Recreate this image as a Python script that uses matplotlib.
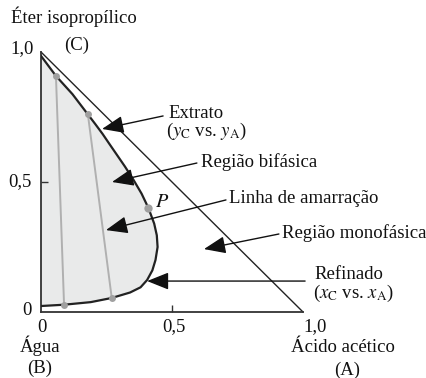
import matplotlib
matplotlib.use("Agg")
import matplotlib.pyplot as plt
from matplotlib.patches import Polygon

plt.rcParams['font.family'] = ['Liberation Serif', 'DejaVu Serif']
plt.rcParams['mathtext.fontset'] = 'stix'

# Binodal curve (mass fractions): x = ácido acético, y = éter isopropílico
binodal_x = [0.0, 0.088, 0.19, 0.27, 0.34, 0.38, 0.405, 0.425, 0.437, 0.445,
             0.442, 0.432, 0.41, 0.384, 0.352, 0.32, 0.29, 0.262, 0.235, 0.207,
             0.179, 0.12, 0.057, 0.0]
binodal_y = [0.023, 0.028, 0.038, 0.054, 0.075, 0.095, 0.123, 0.16, 0.2, 0.25,
             0.295, 0.34, 0.40, 0.455, 0.51, 0.56, 0.604, 0.645, 0.685, 0.723,
             0.76, 0.838, 0.908, 0.985]

# Tie lines: (raffinate point, extract point)
tie_raf_x = [0.088, 0.27]
tie_raf_y = [0.028, 0.054]
tie_ext_x = [0.057, 0.179]
tie_ext_y = [0.908, 0.76]

# Plait point
plait_x, plait_y = 0.41, 0.40

W, H = 427, 378
fig = plt.figure(figsize=(W / 100, H / 100), dpi=100)
ax = fig.add_axes([41 / W, (H - 312) / H, 262 / W, 260 / H])
ax.set_xlim(0, 1)
ax.set_ylim(0, 1)

# two-phase region shading
verts = list(zip(binodal_x, binodal_y))
ax.add_patch(Polygon(verts, closed=True, facecolor='#e9eaea', edgecolor='none', zorder=1))

# hypotenuse of the diagram
ax.plot([0, 1], [1, 0], color='#222222', lw=1.0, zorder=2, clip_on=False)

# tie lines
for rx, ry, ex, ey in zip(tie_raf_x, tie_raf_y, tie_ext_x, tie_ext_y):
    ax.plot([rx, ex], [ry, ey], color='#b0b0b0', lw=1.4, zorder=3)
    ax.plot([rx, ex], [ry, ey], 'o', color='#a0a0a0', ms=5, mec='none', zorder=5)

# binodal curve
ax.plot(binodal_x, binodal_y, color='#222222', lw=1.6, zorder=4,
        solid_capstyle='round', solid_joinstyle='round')

# plait point
ax.plot([plait_x], [plait_y], 'o', color='#a0a0a0', ms=6, mec='none', zorder=5)

# axes styling
for s in ['top', 'right']:
    ax.spines[s].set_visible(False)
for s in ['left', 'bottom']:
    ax.spines[s].set_color('#333333')
    ax.spines[s].set_linewidth(1.3)
ax.set_xticks([0.5])
ax.set_yticks([0.5])
ax.tick_params(direction='in', length=5, width=1.0, color='#333333',
               labelbottom=False, labelleft=False)

fs = 13.5
txt = dict(fontsize=fs, color='#111111', clip_on=False)

# tick labels
ax.text(-0.073, 1.015, '1,0', ha='center', va='center', **txt)
ax.text(-0.08, 0.5, '0,5', ha='center', va='center', **txt)
ax.text(-0.053, 0.004, '0', ha='center', va='center', **txt)
ax.text(0.004, -0.058, '0', ha='center', va='center', **txt)
ax.text(0.508, -0.058, '0,5', ha='center', va='center', **txt)
ax.text(1.046, -0.058, '1,0', ha='center', va='center', **txt)

# component labels
ax.text(0.125, 1.135, 'Éter isopropílico', ha='center', va='center', **txt)
ax.text(0.137, 1.027, '(C)', ha='center', va='center', **txt)
ax.text(-0.004, -0.131, 'Água', ha='center', va='center', **txt)
ax.text(-0.004, -0.215, '(B)', ha='center', va='center', **txt)
ax.text(1.153, -0.135, 'Ácido acético', ha='center', va='center', **txt)
ax.text(1.168, -0.223, '(A)', ha='center', va='center', **txt)

ax.text(0.462, 0.423, '$P$', ha='center', va='center', fontsize=fs + 1, color='#111111')

# annotations with arrows
arrow = dict(arrowstyle='-|>,head_length=0.95,head_width=0.38', color='#111111',
             lw=1.0, mutation_scale=14, shrinkA=0, shrinkB=0)
notes = [
    ('Extrato', (0.485, 0.765), (0.466, 0.754), (0.233, 0.704)),
    ('Região bifásica', (0.611, 0.577), (0.595, 0.573), (0.271, 0.50)),
    ('Linha de amarração', (0.718, 0.435), (0.706, 0.431), (0.248, 0.315)),
    ('Região monofásica', (0.92, 0.304), (0.908, 0.30), (0.622, 0.242)),
    ('Refinado', (1.042, 0.146), (1.008, 0.119), (0.405, 0.119)),
]
for label, tpos, tail, tip in notes:
    ax.text(tpos[0], tpos[1], label, ha='left', va='center', **txt)
    ax.annotate('', xy=tip, xytext=tail, arrowprops=arrow, annotation_clip=False, zorder=6)

ax.text(0.477, 0.696, r'($y_{\mathrm{C}}$ vs. $y_{\mathrm{A}}$)', ha='left', va='center', **txt)
ax.text(1.038, 0.073, r'($x_{\mathrm{C}}$ vs. $x_{\mathrm{A}}$)', ha='left', va='center', **txt)

fig.savefig('out.png', dpi=100, facecolor='white')
